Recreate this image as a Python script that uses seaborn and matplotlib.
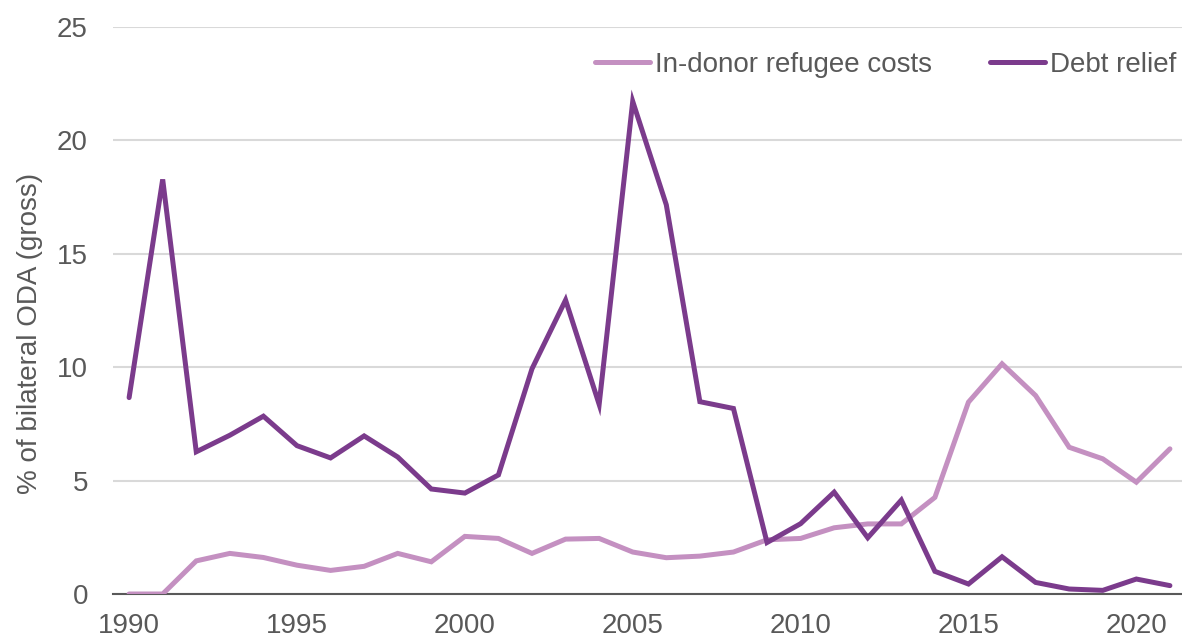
import numpy as np
import pandas as pd
import matplotlib
matplotlib.use("Agg")
import matplotlib.pyplot as plt
import seaborn as sns

years = list(range(1990, 2022))
refugee_costs = [0.0, 0.0, 1.46, 1.79, 1.61, 1.27, 1.04, 1.22, 1.79, 1.42,
                 2.54, 2.45, 1.79, 2.42, 2.45, 1.85, 1.60, 1.67, 1.85, 2.39,
                 2.45, 2.92, 3.09, 3.09, 4.26, 8.46, 10.15, 8.75, 6.47, 5.96,
                 4.93, 6.40]
debt_relief = [8.66, 18.28, 6.27, 7.00, 7.84, 6.54, 6.00, 6.97, 6.04, 4.63,
               4.45, 5.25, 9.93, 12.96, 8.36, 21.72, 17.16, 8.48, 8.18, 2.27,
               3.10, 4.49, 2.48, 4.14, 1.00, 0.44, 1.64, 0.51, 0.22, 0.16,
               0.66, 0.37]
series_names = ["In-donor refugee costs", "Debt relief"]
series_colors = ["#C490C1", "#7B3B8C"]
x_ticks = [1990, 1995, 2000, 2005, 2010, 2015, 2020]
y_ticks = [0, 5, 10, 15, 20, 25]
y_label = "% of bilateral ODA (gross)"

df = pd.DataFrame({
    "year": years * 2,
    "value": refugee_costs + debt_relief,
    "series": [series_names[0]] * len(years) + [series_names[1]] * len(years),
})

sns.set_theme(style="white")
plt.rcParams["font.family"] = ["Liberation Sans", "DejaVu Sans"]

fig = plt.figure(figsize=(11.82, 6.38), dpi=100)
ax = fig.add_axes([113 / 1182, 1 - 594 / 638, 1 - 113 / 1182, (594 - 27) / 638])

sns.lineplot(data=df, x="year", y="value", hue="series", hue_order=series_names,
             palette=series_colors, linewidth=3.6, ax=ax, legend=True,
             solid_capstyle="round", solid_joinstyle="miter")

ax.set_xlim(1989.52, 2021.36)
ax.set_ylim(0, 25)
ax.set_xticks(x_ticks)
ax.set_yticks(y_ticks)
ax.set_xticklabels([str(t) for t in x_ticks])
ax.set_yticklabels([str(t) for t in y_ticks])
ax.tick_params(axis="both", length=0, labelsize=20, labelcolor="#595959")
ax.tick_params(axis="y", pad=18)
ax.tick_params(axis="x", pad=14)
ax.grid(axis="y", color="#d9d9d9", linewidth=1.5)
ax.grid(axis="x", visible=False)
for s in ["top", "right", "left"]:
    ax.spines[s].set_visible(False)
ax.spines["bottom"].set_color("#595959")
ax.spines["bottom"].set_linewidth(1.5)
ax.spines["bottom"].set_zorder(1)
ax.set_xlabel("")
ax.set_ylabel(y_label, fontsize=20, color="#595959")
ax.yaxis.set_label_coords(-0.0655, 0.46)

handles, labels = ax.get_legend_handles_labels()
leg = ax.legend(handles, labels, loc="center right", ncol=2, frameon=False,
                fontsize=20, handlelength=2.0, handletextpad=0.15,
                columnspacing=2.1, borderpad=0, borderaxespad=0,
                bbox_to_anchor=(1176 / 1182, 1 - 65 / 638),
                bbox_transform=fig.transFigure)
for t in leg.get_texts():
    t.set_color("#595959")
for l in leg.get_lines():
    l.set_linewidth(3.6)

fig.savefig("out.png", dpi=100)
